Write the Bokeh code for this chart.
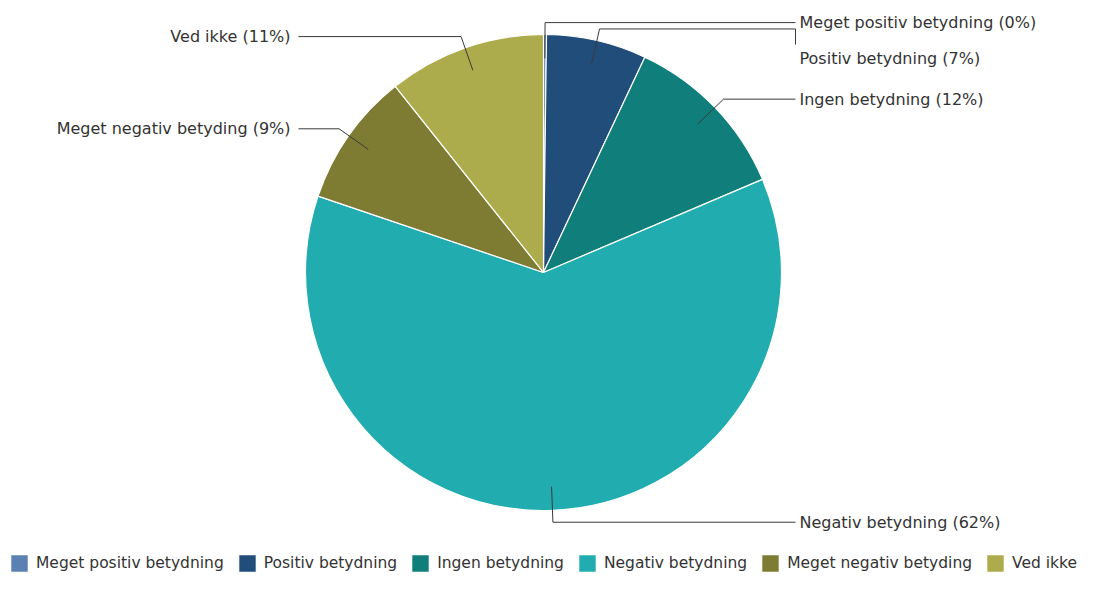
import numpy as np
from bokeh.plotting import figure
from bokeh.models import ColumnDataSource, Range1d, Legend, LegendItem
from bokeh.core.properties import value
from bokeh.embed import file_html
from bokeh.resources import INLINE

# ---- data ----
categories = ["Meget positiv betydning", "Positiv betydning", "Ingen betydning",
              "Negativ betydning", "Meget negativ betyding", "Ved ikke"]
shares = [0.2, 6.8, 11.6, 61.6, 9.1, 10.7]
colors = ["#5b80b2", "#214d7b", "#107e7b", "#21adaf", "#7e7c33", "#adac4c"]

FONT = "DejaVu Sans"
TXT = "#333333"

W, H = 1078, 574
# data coordinates: x = screen pixel, y = 590 - screen pixel (y up)
p = figure(width=W, height=H, x_range=Range1d(0, W), y_range=Range1d(590 - H, 590),
           output_backend="svg", toolbar_location=None, min_border=0)
p.axis.visible = False
p.grid.visible = False
p.outline_line_color = None
p.background_fill_color = "white"

cx, cy, R = 543, 590 - 272, 238

vals = np.array(shares, dtype=float)
frac = vals / vals.sum()
cum_end = np.cumsum(frac)
cum_start = cum_end - frac
start_angle = np.pi / 2 - 2 * np.pi * cum_end
end_angle = np.pi / 2 - 2 * np.pi * cum_start

src = ColumnDataSource(dict(name=categories, start=start_angle, end=end_angle, color=colors))
wr = p.wedge(x=cx, y=cy, radius=R, start_angle="start", end_angle="end",
             fill_color="color", line_color="white", line_width=1.2, source=src)

# ---- leader lines and labels ----
mid = 2 * np.pi * (cum_start + frac / 2)  # clockwise from top
dx, dy = np.sin(mid), np.cos(mid)
ax_, ay_ = cx + 0.9 * R * dx, cy + 0.9 * R * dy
ex_, ey_ = cx + 1.05 * R * dx, cy + 1.05 * R * dy
right = dx >= -1e-9

label_y = ey_.copy()
for side in (True, False):
    idx = [i for i in range(len(categories)) if right[i] == side]
    idx.sort(key=lambda i: -ey_[i])  # top to bottom
    prev = None
    for i in idx:
        y = ey_[i]
        if prev is not None and y > prev - 36:
            y = prev - 36
        label_y[i] = y
        prev = y

xs, ys, tx, ty, tt, talign = [], [], [], [], [], []
for i, name in enumerate(categories):
    xend = 795 if right[i] else 298
    lx = [ax_[i], ex_[i], xend]
    ly = [ay_[i], ey_[i], ey_[i]]
    if abs(label_y[i] - ey_[i]) > 0.5:
        lx.append(xend)
        ly.append(label_y[i] + 14)
    xs.append(lx)
    ys.append(ly)
    tx.append(799 if right[i] else 290)
    ty.append(label_y[i])
    tt.append(f"{name} ({int(round(frac[i] * 100))}%)")
    talign.append("left" if right[i] else "right")

p.multi_line(xs=xs, ys=ys, line_color="#3a3a3a", line_width=1)
p.text(x=tx, y=ty, text=tt, text_align=talign, text_baseline="middle",
       text_font=value(FONT), text_font_size="16px", text_color=TXT)

# ---- legend ----
items = [LegendItem(label=c, renderers=[wr], index=i) for i, c in enumerate(categories)]
legend = Legend(items=items, orientation="horizontal", location=(8, 0),
                glyph_width=22, glyph_height=22, label_standoff=6, spacing=12,
                padding=0, margin=0, label_text_font=FONT, label_text_font_size="15.5px",
                label_text_color=TXT, border_line_color=None, background_fill_alpha=0)
p.add_layout(legend)

open("out.html", "w").write(file_html(p, INLINE))
